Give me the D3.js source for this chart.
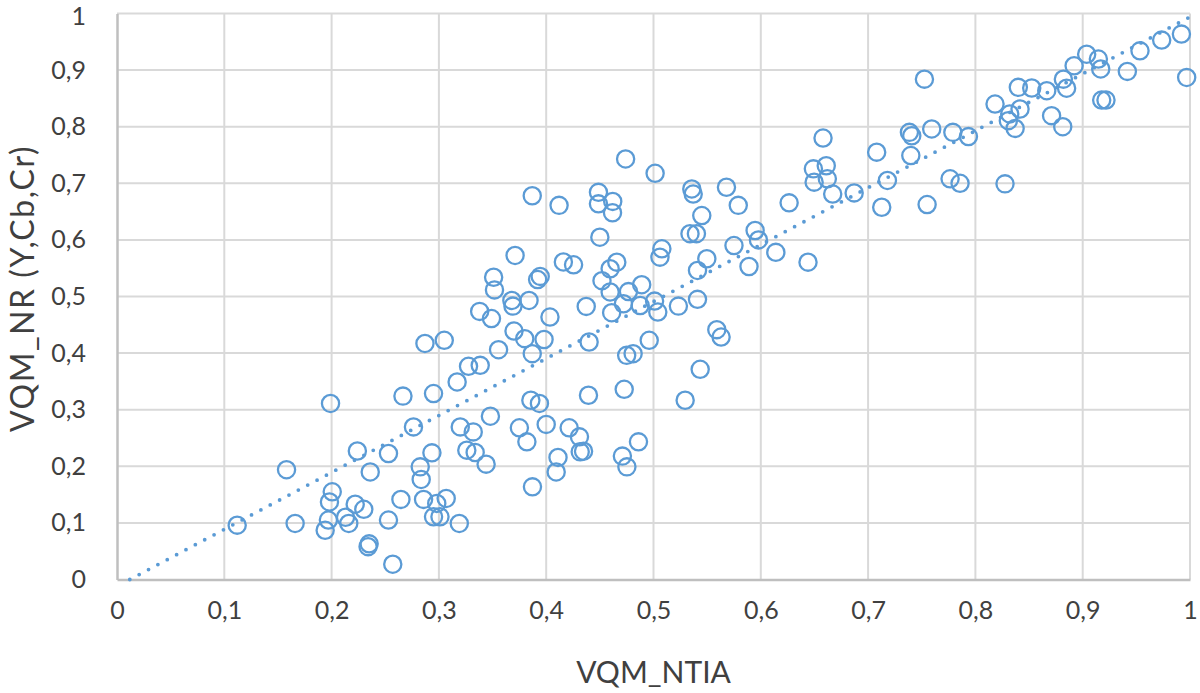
<!DOCTYPE html>
<html>
<head>
<meta charset="utf-8">
<script src="https://cdn.jsdelivr.net/npm/d3@7/dist/d3.min.js"></script>
<style>
  html, body { margin: 0; padding: 0; background: #fff; }
  svg text { font-family: Lato, "Open Sans", sans-serif; fill: #404040; }
</style>
</head>
<body>
<svg id="chart" width="1200" height="693"></svg>
<script>
// Data (VQM_NTIA, VQM_NR)
const xValues = [
  0.112,0.158,0.166,0.194,0.197,0.199,0.2006,0.198,0.213,0.216,0.222,0.230,0.224,0.236,0.235,0.234,
  0.253,0.253,0.257,0.2646,0.2665,0.2763,0.2826,0.2835,0.2857,0.287,0.2935,0.295,0.295,0.298,0.301,0.305,
  0.3068,0.317,0.319,0.3199,0.326,0.3276,0.332,0.3338,0.3385,0.338,0.344,0.348,0.349,0.351,0.3518,0.3556,
  0.368,0.369,0.370,0.371,0.375,0.380,0.382,0.384,0.3857,0.387,0.3872,0.387,0.3937,0.392,0.3944,0.398,
  0.400,0.4035,0.4093,0.411,0.412,0.416,0.4214,0.4255,0.431,0.4317,0.4348,0.4373,0.4394,0.440,0.4487,0.4487,
  0.450,0.452,0.4596,0.4596,0.4658,0.461,0.462,0.4618,0.471,0.4727,0.472,0.474,0.4752,0.475,0.4767,0.481,
  0.486,0.4876,0.489,0.496,0.501,0.504,0.5015,0.5078,0.506,0.5232,0.5295,0.534,0.540,0.5357,0.537,0.541,
  0.541,0.5435,0.545,0.5497,0.559,0.563,0.568,0.575,0.579,0.589,0.5947,0.5978,0.614,0.6264,0.644,0.649,
  0.6497,0.658,0.661,0.662,0.667,0.687,0.708,0.7127,0.718,0.7385,0.7407,0.7398,0.7525,0.755,0.7593,0.7764,
  0.779,0.7857,0.7935,0.8183,0.8276,0.8307,0.832,0.837,0.840,0.8416,0.8525,0.8665,0.871,0.8814,0.882,0.885,
  0.892,0.9037,0.9146,0.9168,0.9177,0.9217,0.9416,0.9534,0.9736,0.992,0.9969
];
const yValues = [
  0.096,0.194,0.099,0.087,0.105,0.311,0.155,0.137,0.110,0.099,0.133,0.124,0.227,0.190,0.063,0.058,
  0.2226,0.105,0.027,0.1415,0.324,0.2696,0.199,0.1768,0.1415,0.417,0.2238,0.3285,0.1108,0.1344,0.1108,0.4226,
  0.1432,0.349,0.099,0.2696,0.2285,0.3767,0.2608,0.2244,0.3784,0.4737,0.2038,0.2885,0.461,0.534,0.5117,0.406,
  0.493,0.483,0.439,0.5725,0.268,0.4255,0.2432,0.493,0.3167,0.399,0.1637,0.678,0.311,0.530,0.5355,0.424,
  0.274,0.4637,0.190,0.2156,0.661,0.561,0.268,0.556,0.252,0.2255,0.2267,0.4825,0.3255,0.4196,0.684,0.6637,
  0.6048,0.528,0.549,0.508,0.5607,0.4714,0.668,0.648,0.218,0.336,0.4872,0.743,0.199,0.396,0.5087,0.399,
  0.2432,0.484,0.5208,0.4226,0.4919,0.4725,0.7177,0.5843,0.5695,0.483,0.3167,0.611,0.611,0.690,0.681,0.495,
  0.546,0.3714,0.643,0.5667,0.4414,0.4284,0.693,0.590,0.661,0.553,0.6166,0.600,0.578,0.6655,0.5607,0.7255,
  0.702,0.780,0.731,0.708,0.681,0.683,0.755,0.6577,0.705,0.790,0.784,0.749,0.884,0.6625,0.796,0.708,
  0.790,0.700,0.7825,0.840,0.699,0.8107,0.8225,0.797,0.8695,0.8313,0.8684,0.8636,0.8195,0.800,0.884,0.868,
  0.9077,0.928,0.9195,0.902,0.847,0.847,0.8977,0.934,0.953,0.9636,0.887
];
// Linear trend line (slope, intercept) as shown in the chart
const trendSlope = 1.006;
const trendIntercept = -0.012;
const xTicks = [0,0.1,0.2,0.3,0.4,0.5,0.6,0.7,0.8,0.9,1];
const yTicks = [0,0.1,0.2,0.3,0.4,0.5,0.6,0.7,0.8,0.9,1];
const xTitle = "VQM_NTIA";
const yTitle = "VQM_NR (Y,Cb,Cr)";

(function () {
const points = xValues.map((x, i) => ({x, y: yValues[i]}));

const svg = d3.select("#chart");
const pL = 117, pR = 1190, pT = 13.5, pB = 579.5;
const x = d3.scaleLinear().domain([0, 1]).range([pL, pR]);
const y = d3.scaleLinear().domain([0, 1]).range([pB, pT]);
const fmt = v => (v === 0 || v === 1) ? String(v) : d3.format(".1f")(v).replace(".", ",");

// Gridlines
svg.append("g").selectAll("line").data(xTicks.filter(t => t > 0)).join("line")
  .attr("x1", d => x(d)).attr("x2", d => x(d)).attr("y1", pT).attr("y2", pB)
  .attr("stroke", "#d9d9d9").attr("stroke-width", 2);
svg.append("g").selectAll("line").data(yTicks.filter(t => t > 0)).join("line")
  .attr("x1", pL).attr("x2", pR).attr("y1", d => y(d)).attr("y2", d => y(d))
  .attr("stroke", "#d9d9d9").attr("stroke-width", 2);

// Axes
const xAxis = svg.append("g").attr("transform", `translate(0,${pB})`)
  .call(d3.axisBottom(x).tickValues(xTicks).tickFormat(fmt).tickSize(0).tickPadding(22));
xAxis.select(".domain").attr("stroke", "#bfbfbf").attr("stroke-width", 2.5);
xAxis.selectAll("text").style("font-size", "25px").attr("fill", "#404040");

const yAxis = svg.append("g").attr("transform", `translate(${pL},0)`)
  .call(d3.axisLeft(y).tickValues(yTicks).tickFormat(fmt).tickSize(0).tickPadding(31));
yAxis.select(".domain").attr("stroke", "#bfbfbf").attr("stroke-width", 2.5);
yAxis.selectAll("text").style("font-size", "25px").attr("fill", "#404040");
// keep the top label inside the canvas
yAxis.selectAll(".tick").filter(d => d === 1).select("text").attr("dy", "0.45em");

// Trend line
const x0 = -trendIntercept / trendSlope;
svg.append("line")
  .attr("x1", x(x0)).attr("y1", y(trendSlope * x0 + trendIntercept))
  .attr("x2", x(1)).attr("y2", y(trendSlope * 1 + trendIntercept))
  .attr("stroke", "#5b9bd5").attr("stroke-width", 3.8)
  .attr("stroke-linecap", "round").attr("stroke-dasharray", "0,10.6");

// Points
svg.append("g").selectAll("circle").data(points).join("circle")
  .attr("cx", d => x(d.x)).attr("cy", d => y(d.y)).attr("r", 8.6)
  .attr("fill", "none").attr("stroke", "#5b9bd5").attr("stroke-width", 2.3);

// Titles
svg.append("text").attr("x", (pL + pR) / 2).attr("y", 683)
  .attr("text-anchor", "middle").style("font-size", "30px").text(xTitle);
svg.append("text").attr("transform", `translate(34,${(pT + pB) / 2 - 8}) rotate(-90)`)
  .attr("text-anchor", "middle").style("font-size", "32px").style("letter-spacing", "1.5px").text(yTitle);
})();
</script>
</body>
</html>
